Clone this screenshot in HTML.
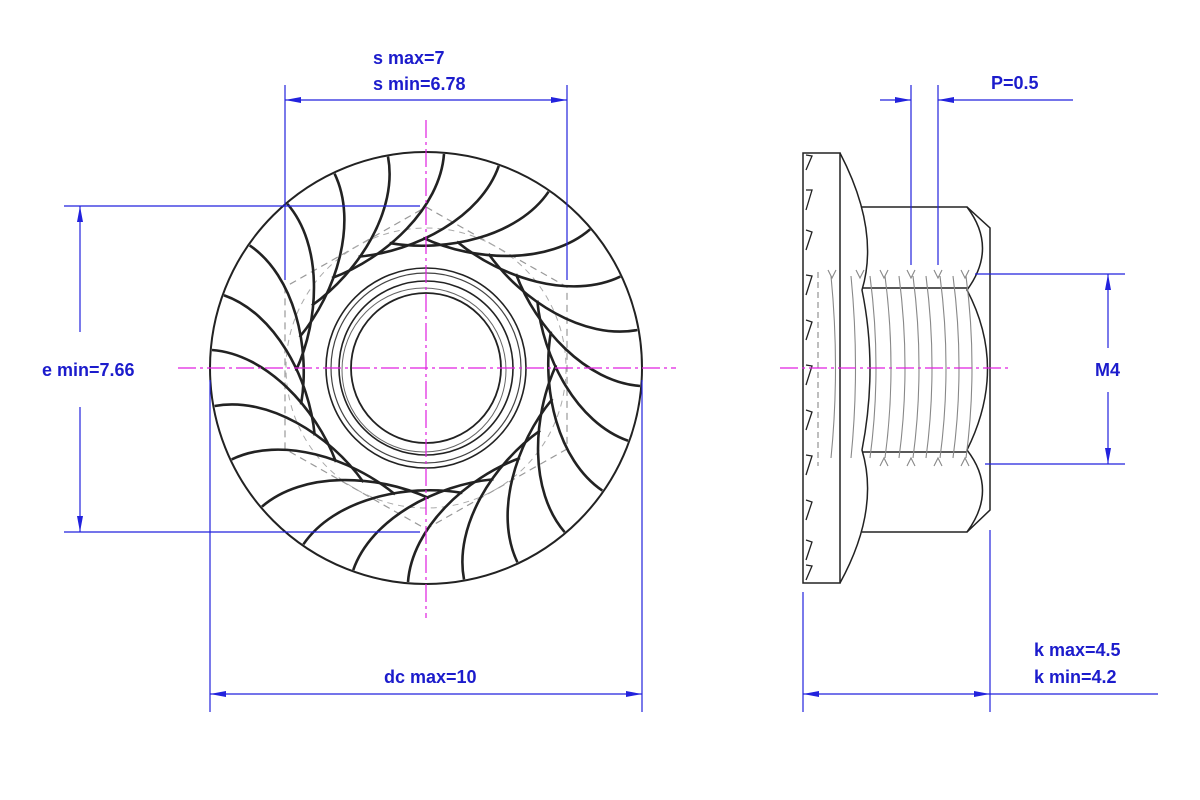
<!DOCTYPE html>
<html><head><meta charset="utf-8"><style>
html,body{margin:0;padding:0;background:#fff;}
svg{display:block}
text{font-family:"Liberation Sans",Arial,sans-serif;font-weight:bold;font-size:18px;fill:#1c1ccc}
</style></head><body>
<svg width="1200" height="800" viewBox="0 0 1200 800" xmlns="http://www.w3.org/2000/svg">
<defs>
<path id="ser" d="M18,-214 C14,-160 -40,-110 -94,-90" fill="none" stroke="#222" stroke-width="2.6"/>
</defs>
<rect width="1200" height="800" fill="#fff"/>

<!-- FRONT VIEW -->
<g transform="translate(426,368)">
  <polygon points="0,-161 141,-81 141,81 0,161 -141,81 -141,-81" fill="none" stroke="#999" stroke-width="1.2" stroke-dasharray="7,5"/>
  <circle r="140" fill="none" stroke="#aaa" stroke-width="1" stroke-dasharray="6,5"/>
  <circle r="216" fill="none" stroke="#222" stroke-width="2"/>
  <g>
    <use href="#ser"/>
    <use href="#ser" transform="rotate(15)"/>
    <use href="#ser" transform="rotate(30)"/>
    <use href="#ser" transform="rotate(45)"/>
    <use href="#ser" transform="rotate(60)"/>
    <use href="#ser" transform="rotate(75)"/>
    <use href="#ser" transform="rotate(90)"/>
    <use href="#ser" transform="rotate(105)"/>
    <use href="#ser" transform="rotate(120)"/>
    <use href="#ser" transform="rotate(135)"/>
    <use href="#ser" transform="rotate(150)"/>
    <use href="#ser" transform="rotate(165)"/>
    <use href="#ser" transform="rotate(180)"/>
    <use href="#ser" transform="rotate(195)"/>
    <use href="#ser" transform="rotate(210)"/>
    <use href="#ser" transform="rotate(225)"/>
    <use href="#ser" transform="rotate(240)"/>
    <use href="#ser" transform="rotate(255)"/>
    <use href="#ser" transform="rotate(270)"/>
    <use href="#ser" transform="rotate(285)"/>
    <use href="#ser" transform="rotate(300)"/>
    <use href="#ser" transform="rotate(315)"/>
    <use href="#ser" transform="rotate(330)"/>
    <use href="#ser" transform="rotate(345)"/>
  </g>
  <circle r="100" fill="none" stroke="#222" stroke-width="1.6"/>
  <circle r="95" fill="none" stroke="#444" stroke-width="1.2"/>
  <circle r="87" fill="none" stroke="#222" stroke-width="1.6"/>
  <circle cx="-2" cy="2" r="82" fill="none" stroke="#666" stroke-width="1"/>
  <circle r="75" fill="none" stroke="#222" stroke-width="1.8"/>
</g>
<g stroke="#e020e0" stroke-width="1.2" stroke-dasharray="18,4,3,4" fill="none">
  <line x1="178" y1="368" x2="676" y2="368"/>
  <line x1="426" y1="120" x2="426" y2="618"/>
</g>

<!-- SIDE VIEW -->
<g fill="none" stroke="#222" stroke-width="1.5">
  <rect x="803" y="153" width="37" height="430"/>
  <path d="M840,153 Q880,230 862,290 Q878,368 862,450 Q880,510 840,583"/>
  <path d="M862,207 H967 L990,228 V510 L967,532 H862"/>
  <path d="M967,207 Q998,248 967,290 Q1008,368 967,450 Q998,490 967,532"/>
  <line x1="862" y1="288" x2="967" y2="288"/>
  <line x1="862" y1="452" x2="967" y2="452"/>
  <path d="M806,155 L812,156 L806,170 M806,190 L812,190 L806,210 M806,230 L812,232 L806,250 M806,275 L812,276 L806,295 M806,320 L812,322 L806,340 M806,365 L812,366 L806,385 M806,410 L812,412 L806,430 M806,455 L812,456 L806,475 M806,500 L812,502 L806,520 M806,540 L812,542 L806,560 M806,565 L812,566 L806,580" stroke-width="1.3"/>
</g>
<g fill="none" stroke="#888" stroke-width="1.1">
  <path d="M831,276 Q840,368 831,458"/>
  <path d="M851,276 Q860,368 851,458"/>
  <path d="M870,276 Q882,368 870,458"/>
  <path d="M885,276 Q897,368 885,458"/>
  <path d="M899,276 Q911,368 899,458"/>
  <path d="M913,276 Q925,368 913,458"/>
  <path d="M926,276 Q938,368 926,458"/>
  <path d="M940,276 Q952,368 940,458"/>
  <path d="M953,276 Q965,368 953,458"/>
  <path d="M966,276 Q978,368 966,458"/>
  <path d="M880,270 L884,278 L888,270 M907,270 L911,278 L915,270 M934,270 L938,278 L942,270 M961,270 L965,278 L969,270 M828,270 L832,278 L836,270 M856,270 L860,278 L864,270"/>
  <path d="M880,466 L884,458 L888,466 M907,466 L911,458 L915,466 M934,466 L938,458 L942,466 M961,466 L965,458 L969,466"/>
  <path d="M818,272 V466" stroke-dasharray="6,4"/>
</g>
<line x1="780" y1="368" x2="1012" y2="368" stroke="#e020e0" stroke-width="1.2" stroke-dasharray="18,4,3,4"/>

<!-- DIMENSIONS -->
<g stroke="#2222dd" stroke-width="1.2" fill="none">
  <line x1="285" y1="85" x2="285" y2="280"/>
  <line x1="567" y1="85" x2="567" y2="280"/>
  <line x1="285" y1="100" x2="567" y2="100"/>
  <line x1="64" y1="206" x2="420" y2="206"/>
  <line x1="64" y1="532" x2="420" y2="532"/>
  <line x1="80" y1="206" x2="80" y2="332"/>
  <line x1="80" y1="407" x2="80" y2="532"/>
  <line x1="210" y1="380" x2="210" y2="712"/>
  <line x1="642" y1="380" x2="642" y2="712"/>
  <line x1="210" y1="694" x2="642" y2="694"/>
  <line x1="911" y1="85" x2="911" y2="265"/>
  <line x1="938" y1="85" x2="938" y2="265"/>
  <line x1="880" y1="100" x2="911" y2="100"/>
  <line x1="938" y1="100" x2="1073" y2="100"/>
  <line x1="975" y1="274" x2="1125" y2="274"/>
  <line x1="985" y1="464" x2="1125" y2="464"/>
  <line x1="1108" y1="274" x2="1108" y2="348"/>
  <line x1="1108" y1="392" x2="1108" y2="464"/>
  <line x1="803" y1="592" x2="803" y2="712"/>
  <line x1="990" y1="530" x2="990" y2="712"/>
  <line x1="803" y1="694" x2="1158" y2="694"/>
</g>
<g fill="#2222dd">
  <polygon points="285,100 301,97 301,103"/>
  <polygon points="567,100 551,97 551,103"/>
  <polygon points="80,206 77,222 83,222"/>
  <polygon points="80,532 77,516 83,516"/>
  <polygon points="210,694 226,691 226,697"/>
  <polygon points="642,694 626,691 626,697"/>
  <polygon points="911,100 895,97 895,103"/>
  <polygon points="938,100 954,97 954,103"/>
  <polygon points="1108,274 1105,290 1111,290"/>
  <polygon points="1108,464 1105,448 1111,448"/>
  <polygon points="803,694 819,691 819,697"/>
  <polygon points="990,694 974,691 974,697"/>
</g>
<text x="373" y="64">s max=7</text>
<text x="373" y="90">s min=6.78</text>
<text x="42" y="376">e min=7.66</text>
<text x="384" y="683">dc max=10</text>
<text x="991" y="89">P=0.5</text>
<text x="1095" y="376">M4</text>
<text x="1034" y="656">k max=4.5</text>
<text x="1034" y="683">k min=4.2</text>
</svg>
</body></html>
